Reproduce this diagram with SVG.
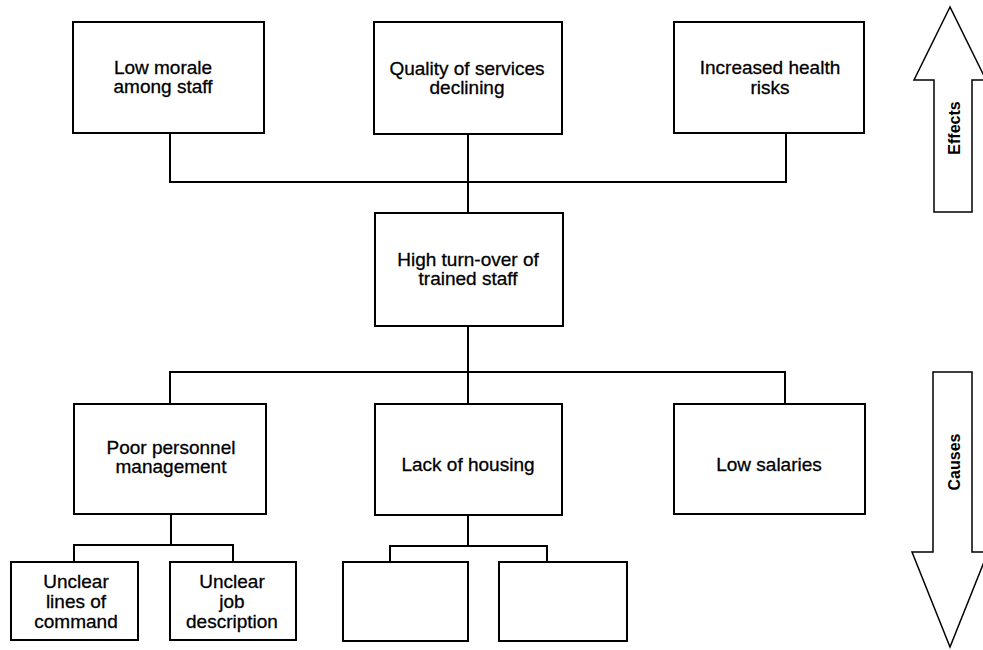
<svg xmlns="http://www.w3.org/2000/svg" width="983" height="650" viewBox="0 0 983 650">
<style>
.box{fill:#fff;stroke:#000;stroke-width:2}
.lbl{font-family:"Liberation Sans",Arial,sans-serif;font-size:19px;fill:#000;stroke:#000;stroke-width:0.3;text-anchor:middle}
.arr{fill:#fff;stroke:#000;stroke-width:1.5;stroke-linejoin:miter}
.alb{font-family:"Liberation Sans",Arial,sans-serif;font-size:16px;font-weight:bold;fill:#000;text-anchor:middle}
.con{fill:none;stroke:#000;stroke-width:2}
</style>
<rect width="983" height="650" fill="#fff"/>
<g id="connectors" class="con">
<polyline points="170,133 170,182 786,182 786,133"/>
<line x1="468" y1="134" x2="468" y2="213"/>
<line x1="468" y1="326" x2="468" y2="404"/>
<polyline points="170,404 170,372 785,372 785,404"/>
<line x1="171" y1="514" x2="171" y2="545"/>
<polyline points="74,562 74,545 233,545 233,562"/>
<line x1="468" y1="515" x2="468" y2="546"/>
<polyline points="390,562 390,546 547,546 547,562"/>
</g>
<g id="n-morale"><rect class="box" x="73" y="22" width="191" height="111"/><text class="lbl" x="163" y="74">Low morale</text><text class="lbl" x="163" y="93">among staff</text></g>
<g id="n-quality"><rect class="box" x="374" y="22" width="188" height="112"/><text class="lbl" x="467" y="75">Quality of services</text><text class="lbl" x="467" y="94">declining</text></g>
<g id="n-health"><rect class="box" x="674" y="22" width="190" height="111"/><text class="lbl" x="770" y="74">Increased health</text><text class="lbl" x="770" y="94">risks</text></g>
<g id="n-turnover"><rect class="box" x="375" y="213" width="188" height="113"/><text class="lbl" x="468" y="266">High turn-over of</text><text class="lbl" x="468" y="285">trained staff</text></g>
<g id="n-personnel"><rect class="box" x="74" y="404" width="192" height="110"/><text class="lbl" x="171" y="454">Poor personnel</text><text class="lbl" x="171" y="473">management</text></g>
<g id="n-housing"><rect class="box" x="375" y="404" width="187" height="111"/><text class="lbl" x="468" y="471">Lack of housing</text></g>
<g id="n-salaries"><rect class="box" x="674" y="404" width="191" height="110"/><text class="lbl" x="769" y="471">Low salaries</text></g>
<g id="n-command"><rect class="box" x="11" y="562" width="127" height="78"/><text class="lbl" x="76" y="588">Unclear</text><text class="lbl" x="76" y="608">lines of</text><text class="lbl" x="76" y="628">command</text></g>
<g id="n-job"><rect class="box" x="170" y="562" width="126" height="78"/><text class="lbl" x="232" y="588">Unclear</text><text class="lbl" x="232" y="608">job</text><text class="lbl" x="232" y="628">description</text></g>
<g id="n-blank1"><rect class="box" x="343" y="562" width="125" height="79"/></g>
<g id="n-blank2"><rect class="box" x="499" y="562" width="128" height="79"/></g>
<g id="effects">
<polygon class="arr" points="950,7 914,80 934,80 934,212 972,212 972,80 986,80"/>
<text class="alb" transform="translate(960,128) rotate(-90)">Effects</text>
</g>
<g id="causes">
<polygon class="arr" points="933,372 972,372 972,552 988,552 950,647 912,552 933,552"/>
<text class="alb" transform="translate(960,462) rotate(-90)">Causes</text>
</g>
</svg>
